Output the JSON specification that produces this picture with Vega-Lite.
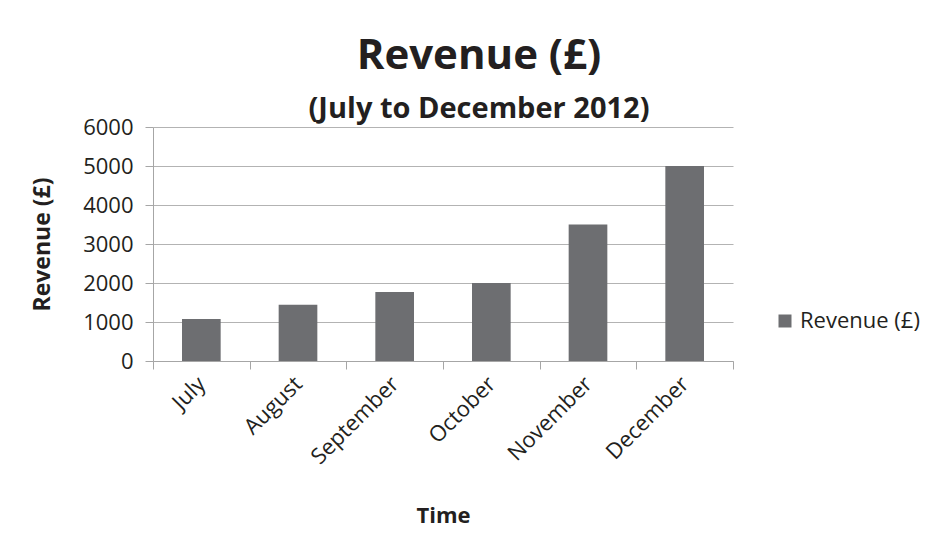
{
  "$schema": "https://vega.github.io/schema/vega-lite/v6.json",
  "width": 580,
  "height": 234,
  "autosize": {"type": "none"},
  "padding": {"left": 153, "top": 127, "right": 196, "bottom": 193},
  "background": "white",
  "config": {
    "font": "Open Sans",
    "view": {"stroke": null},
    "title": {"color": "#231f20"}
  },
  "title": {
    "text": "Revenue (£)",
    "subtitle": "(July to December 2012)",
    "anchor": "middle",
    "frame": "group",
    "dx": 36,
    "offset": -9,
    "fontSize": 42,
    "fontWeight": "bold",
    "color": "#231f20",
    "subtitleFontSize": 29,
    "subtitleFontWeight": "bold",
    "subtitleColor": "#231f20",
    "subtitleFont": "Open Sans",
    "subtitlePadding": 17
  },
  "data": {
    "values": [
      {"month": "July", "revenue": 1080},
      {"month": "August", "revenue": 1440},
      {"month": "September", "revenue": 1770},
      {"month": "October", "revenue": 2000},
      {"month": "November", "revenue": 3500},
      {"month": "December", "revenue": 5000}
    ]
  },
  "mark": {"type": "bar", "width": {"band": 0.4}},
  "encoding": {
    "x": {
      "field": "month",
      "type": "nominal",
      "sort": null,
      "scale": {"paddingInner": 0, "paddingOuter": 0},
      "axis": {
        "title": "Time",
        "titleFontSize": 22,
        "titleFontWeight": "bold",
        "titleColor": "#231f20",
        "titlePadding": 38,
        "labelAngle": -45,
        "labelAlign": "right",
        "labelBaseline": "middle",
        "labelFontSize": 22,
        "labelColor": "#231f20",
        "labelPadding": 11,
        "tickBand": "extent",
        "tickSize": 8,
        "tickColor": "#a6a6a6",
        "domainColor": "#a6a6a6",
        "grid": false
      }
    },
    "y": {
      "field": "revenue",
      "type": "quantitative",
      "scale": {"domain": [0, 6000], "nice": false},
      "axis": {
        "title": "Revenue (£)",
        "titleFontSize": 23,
        "titleFontWeight": "bold",
        "titleColor": "#231f20",
        "titlePadding": 28,
        "values": [0, 1000, 2000, 3000, 4000, 5000, 6000],
        "format": "d",
        "labelFontSize": 22,
        "labelColor": "#231f20",
        "labelPadding": 12,
        "tickSize": 8,
        "tickColor": "#a6a6a6",
        "domainColor": "#a6a6a6",
        "gridColor": "#b3b3b3",
        "grid": true
      }
    },
    "color": {
      "datum": "Revenue (£)",
      "type": "nominal",
      "scale": {"range": ["#6d6e71"]},
      "legend": {
        "title": null,
        "orient": "none",
        "legendX": 621,
        "legendY": 183,
        "symbolType": "square",
        "symbolSize": 169,
        "symbolStrokeWidth": 0,
        "symbolOpacity": 1,
        "labelFontSize": 22,
        "labelColor": "#231f20"
      }
    }
  }
}
